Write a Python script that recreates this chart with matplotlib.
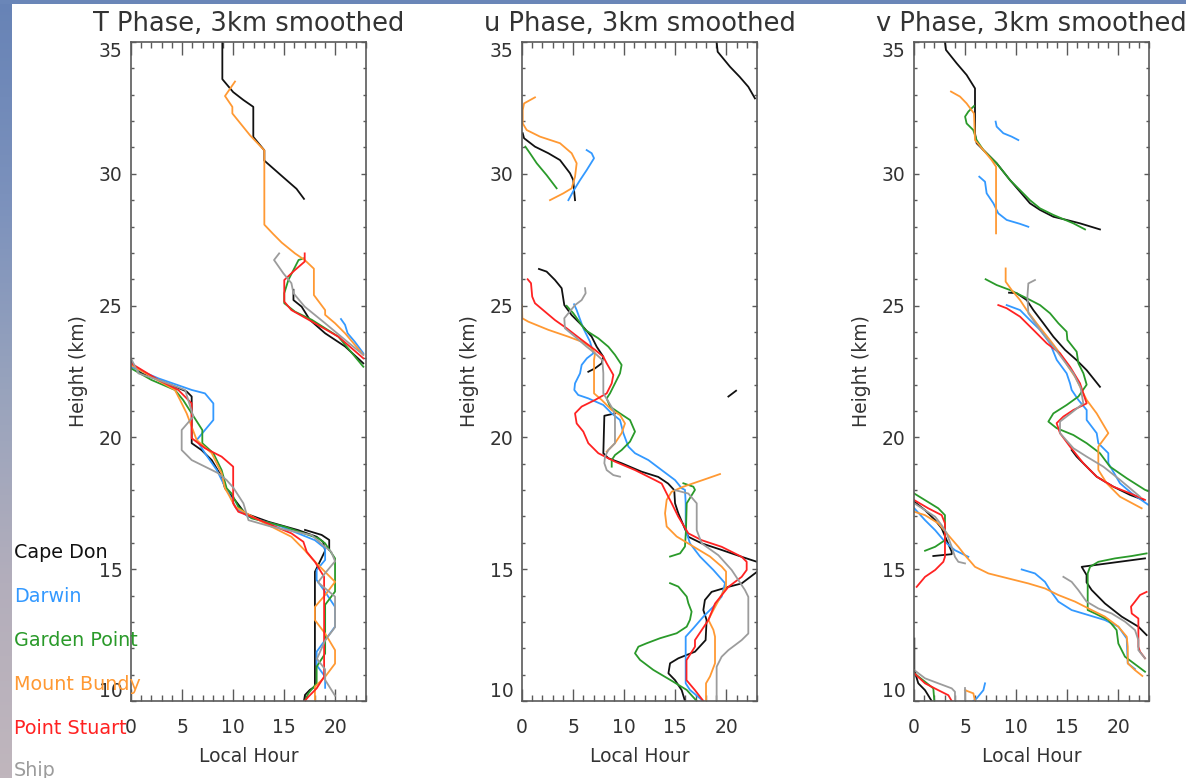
import numpy as np
import matplotlib
matplotlib.use("Agg")
import matplotlib.pyplot as plt
from matplotlib.ticker import MultipleLocator
from matplotlib.colors import LinearSegmentedColormap

# ---------------------------------------------------------------------------
# Stations, colours and panel titles
# ---------------------------------------------------------------------------
STATIONS = ["Cape Don", "Darwin", "Garden Point", "Mount Bundy", "Point Stuart", "Ship"]
COLORS = ["#111111", "#3399ff", "#2a9a2a", "#ff9933", "#ff2222", "#9c9c9c"]
TITLES = ["T Phase, 3km smoothed", "u Phase, 3km smoothed", "v Phase, 3km smoothed"]
HOUR_TICKS = [0, 5, 10, 15, 20]
HEIGHT_TICKS = [10, 15, 20, 25, 30, 35]

# Phase profiles: each station is a list of segments of (local hour, height km)

# ---- T phase ----
T_CAPE_DON = [
    [(8.94, 35.0), (8.94, 33.59), (10.0, 33.1), (11.0, 32.8), (11.97, 32.54), (11.97, 31.4),
     (13.05, 30.89), (13.05, 30.5), (14.9, 29.87), (16.2, 29.43), (16.93, 29.05)],
    [(15.9, 25.6), (15.9, 25.21), (16.7, 24.96), (17.5, 24.46), (19.0, 23.95), (20.95, 23.45),
     (22.74, 22.81)],
    [(0.0, 22.87), (1.04, 22.43), (2.68, 22.18), (4.3, 21.93), (5.45, 21.74), (5.94, 21.55),
     (5.94, 19.78), (6.9, 19.52), (7.9, 19.14), (8.87, 18.51), (9.2, 18.07), (10.18, 17.62),
     (11.16, 17.12), (13.44, 16.8), (16.38, 16.48), (18.17, 16.23), (18.8, 16.04), (19.0, 15.7),
     (18.5, 15.3), (18.0, 14.9), (18.0, 10.55), (17.5, 10.42), (17.03, 10.23), (16.93, 10.0)],
    [(17.03, 16.49), (18.66, 16.3), (19.4, 16.11), (19.4, 15.73)],
]
T_DARWIN = [
    [(20.55, 24.49), (20.95, 24.27), (21.2, 23.95), (21.9, 23.63), (22.74, 23.19)],
    [(0.0, 22.68), (2.68, 22.24), (5.94, 21.8), (7.24, 21.67), (8.06, 21.29), (8.06, 20.66),
     (7.24, 20.28), (6.43, 19.9), (7.24, 19.4), (8.4, 18.76), (9.2, 18.13), (9.8, 17.7),
     (10.3, 17.3), (11.5, 16.99), (14.75, 16.61), (18.0, 16.1), (19.0, 15.79), (19.0, 15.35),
     (18.17, 14.97), (18.17, 14.59), (19.0, 14.14), (19.97, 13.57), (19.97, 12.82), (19.0, 12.31),
     (18.17, 11.87), (18.17, 11.36), (19.0, 10.92), (19.0, 10.5)],
]
T_GARDEN_POINT = [
    [(16.9, 26.79), (16.4, 26.73), (15.4, 25.97), (15.0, 25.47), (15.0, 25.09), (16.05, 24.77),
     (17.7, 24.46), (20.3, 23.82), (22.74, 22.68)],
    [(0.0, 22.62), (2.0, 22.18), (4.3, 21.8), (5.1, 21.42), (5.94, 20.91), (6.98, 20.28),
     (6.98, 19.78), (8.06, 19.4), (8.87, 18.76), (9.36, 18.07), (9.85, 17.87), (10.5, 17.37),
     (11.8, 16.93), (15.07, 16.61), (18.34, 16.17), (19.0, 15.98), (19.97, 15.41), (19.97, 14.15),
     (19.0, 13.65), (19.0, 11.8), (18.17, 11.3), (18.17, 10.67), (17.36, 10.29), (17.0, 10.0)],
]
T_MOUNT_BUNDY = [
    [(10.18, 33.5), (9.2, 32.95), (9.92, 32.54), (9.92, 32.29), (11.65, 31.46), (13.05, 30.89),
     (13.05, 28.07), (13.93, 27.71), (14.75, 27.39), (16.05, 26.98), (17.0, 26.73), (17.9, 26.4),
     (17.9, 25.4), (19.0, 24.83), (19.0, 24.65), (19.97, 24.33), (20.95, 23.95), (22.74, 23.13)],
    [(0.0, 22.75), (2.0, 22.3), (4.3, 21.8), (4.8, 21.42), (5.45, 20.91), (6.43, 19.9),
     (7.9, 19.4), (8.87, 18.64), (9.2, 18.07), (9.6, 17.8), (10.18, 17.37), (11.3, 17.12),
     (13.1, 16.74), (15.7, 16.23), (17.0, 15.72), (17.7, 15.41), (18.66, 15.03), (19.97, 14.52),
     (19.0, 14.02), (18.0, 13.57), (18.0, 13.07), (19.0, 12.56), (19.97, 11.93), (19.97, 11.42),
     (19.0, 10.92), (18.0, 10.54), (18.0, 10.0)],
]
T_POINT_STUART = [
    [(17.0, 26.98), (17.0, 26.67), (16.05, 26.35), (15.0, 25.97), (15.0, 25.15), (15.7, 24.83),
     (18.0, 24.33), (20.3, 23.82), (22.74, 23.0)],
    [(0.0, 22.81), (2.68, 22.18), (4.63, 21.8), (5.94, 21.29), (5.94, 19.97), (7.24, 19.59),
     (8.87, 19.27), (10.0, 18.89), (10.0, 17.5), (10.5, 17.18), (11.8, 16.99), (15.7, 16.36),
     (16.87, 16.04), (17.2, 15.66), (18.0, 15.28), (18.9, 14.71), (18.9, 10.92), (18.17, 10.48),
     (17.36, 10.16), (17.0, 10.0)],
]
T_SHIP = [
    [(14.5, 26.98), (14.0, 26.73), (14.9, 26.23), (15.7, 25.85), (15.9, 25.47), (17.0, 24.96),
     (19.0, 24.33), (20.95, 23.7), (22.74, 23.13)],
    [(0.0, 23.0), (0.72, 22.43), (2.68, 22.18), (5.3, 21.8), (6.1, 20.79), (4.96, 20.28),
     (4.96, 19.52), (5.94, 19.14), (8.55, 18.64), (9.36, 18.38), (10.0, 18.1), (11.0, 17.5),
     (11.5, 16.86), (13.77, 16.61), (17.7, 16.29), (18.8, 15.91), (19.6, 15.66), (19.97, 15.3),
     (19.0, 14.85), (18.3, 14.5), (19.97, 13.96), (19.97, 12.8), (19.0, 12.3), (18.2, 11.6),
     (19.0, 11.2), (19.0, 10.8), (19.97, 10.2)],
]

# ---- u phase ----
U_CAPE_DON = [
    [(19.05, 35.0), (19.15, 34.63), (20.36, 34.06), (21.3, 33.68), (22.15, 33.3), (22.8, 32.86)],
    [(0.07, 31.54), (0.2, 31.35), (1.27, 31.03), (2.58, 30.78), (3.72, 30.52), (4.7, 30.02),
     (5.02, 29.76), (5.09, 29.39), (5.19, 29.0)],
    [(1.66, 26.39), (2.41, 26.29), (3.23, 25.97), (3.88, 25.66), (4.14, 25.02), (4.86, 24.64),
     (5.84, 24.26), (6.82, 23.82), (7.31, 23.44), (7.96, 23.06), (7.8, 22.81), (7.15, 22.62),
     (6.49, 22.49)],
    [(20.2, 21.55), (20.95, 21.77)],
    [(9.1, 20.91), (8.06, 20.82), (7.96, 19.4), (8.45, 19.21), (9.75, 19.02), (11.7, 18.7),
     (13.34, 18.5), (14.3, 18.25), (14.9, 18.0), (14.98, 17.5), (15.3, 17.12), (16.28, 16.23),
     (17.59, 15.98), (19.54, 15.73), (21.5, 15.47), (23.0, 15.28)],
    [(23.0, 14.9), (21.5, 14.46), (20.2, 14.33), (18.56, 14.14), (17.9, 13.83), (17.75, 13.45),
     (18.07, 13.07), (17.97, 12.31), (16.93, 11.87), (15.3, 11.62), (14.49, 11.43), (14.33, 11.05),
     (14.98, 10.79), (15.63, 10.41), (15.95, 10.0)],
]
U_DARWIN = [
    [(6.33, 30.9), (6.82, 30.78), (7.05, 30.59), (6.33, 30.14), (5.68, 29.76), (5.09, 29.39),
     (4.54, 29.0)],
    [(5.1, 25.05), (5.35, 24.83), (6.0, 24.14), (6.66, 23.63), (6.98, 23.19), (6.35, 23.0),
     (5.84, 22.75), (5.68, 22.43), (5.19, 22.05), (5.12, 21.8), (5.5, 21.61), (6.49, 21.48),
     (7.96, 21.23), (8.78, 20.91), (9.59, 20.66), (9.92, 20.16), (10.41, 19.65), (11.06, 19.4),
     (12.37, 19.14), (13.67, 18.76), (14.98, 18.38), (15.63, 18.07), (15.95, 18.01), (16.02, 17.5),
     (16.02, 16.49), (16.44, 15.98), (17.42, 15.48), (18.73, 14.97), (19.87, 14.47), (19.54, 13.96),
     (18.73, 13.58), (17.75, 13.2), (16.77, 12.76), (16.02, 12.44), (16.02, 10.67), (16.44, 10.42),
     (17.42, 10.1), (17.75, 10.0)],
]
U_GARDEN_POINT = [
    [(0.33, 31.03), (0.78, 30.78), (1.44, 30.4), (2.41, 29.95), (3.39, 29.45)],
    [(4.37, 24.99), (5.02, 24.71), (6.17, 24.08), (7.47, 23.76), (8.45, 23.44), (9.1, 23.13),
     (9.75, 22.75), (9.59, 22.43), (9.1, 22.05), (8.61, 21.67), (8.29, 21.48), (8.61, 21.17),
     (9.59, 20.91), (10.57, 20.66), (11.06, 20.22), (10.57, 19.84), (9.75, 19.52), (9.1, 19.33),
     (8.78, 19.14), (8.78, 18.89)],
    [(15.79, 18.26), (16.77, 18.13), (16.93, 18.01), (16.12, 17.5), (16.05, 16.49), (15.95, 15.86),
     (15.47, 15.6), (14.49, 15.48)],
    [(14.49, 14.47), (15.3, 14.34), (16.12, 13.96), (16.28, 13.71), (16.6, 13.39), (16.44, 13.08),
     (16.12, 12.82), (15.14, 12.57), (13.5, 12.38), (12.2, 12.19), (11.39, 12.06), (11.06, 11.81),
     (11.55, 11.56), (12.85, 11.18), (14.81, 10.73), (16.12, 10.42), (17.1, 10.0)],
]
U_MOUNT_BUNDY = [
    [(1.27, 32.9), (0.2, 32.67), (0.07, 32.42), (0.07, 31.91), (0.46, 31.66), (1.76, 31.41),
     (3.72, 31.16), (4.86, 30.78), (5.35, 30.4), (5.19, 29.89), (4.86, 29.45), (4.05, 29.26),
     (2.74, 29.0)],
    [(0.0, 25.02), (0.03, 24.52), (0.62, 24.39), (2.58, 24.08), (4.54, 23.82), (5.84, 23.63),
     (6.66, 23.44), (7.15, 23.19), (7.05, 22.94), (7.05, 21.67), (7.8, 21.42), (8.78, 21.04),
     (9.59, 20.85), (10.08, 20.53), (9.75, 20.16), (9.1, 19.78), (8.29, 19.46)],
    [(19.38, 18.61), (17.75, 18.39), (15.79, 18.13), (14.65, 17.94), (14.16, 17.63), (14.0, 17.12),
     (14.16, 16.62), (15.14, 16.24), (16.77, 15.86), (18.4, 15.48), (19.54, 15.1), (19.97, 14.91),
     (19.97, 14.34), (18.73, 13.45), (18.24, 13.08), (18.73, 12.7), (18.89, 12.44), (18.89, 11.43),
     (18.4, 10.93), (18.01, 10.67), (18.01, 10.0)],
]
U_POINT_STUART = [
    [(0.55, 26.0), (0.88, 25.85), (1.0, 25.34), (1.27, 25.09), (2.25, 24.77), (3.23, 24.45),
     (4.37, 24.14), (5.84, 23.7), (7.15, 23.32), (7.96, 23.06), (8.29, 22.81), (8.94, 22.37),
     (8.78, 22.05), (8.29, 21.67), (7.15, 21.42), (5.84, 21.17), (5.19, 20.91), (5.35, 20.53),
     (6.0, 20.22), (6.49, 19.78), (7.47, 19.4), (9.1, 19.08), (11.06, 18.76), (13.02, 18.38),
     (13.67, 18.25), (14.16, 17.87), (14.65, 17.5), (15.3, 16.99), (16.28, 16.36), (17.59, 16.1),
     (19.54, 15.85), (21.5, 15.47), (21.99, 15.28), (21.99, 14.97), (21.5, 14.71), (20.2, 14.33),
     (18.9, 13.7), (18.24, 13.07), (16.93, 12.31), (16.93, 12.06), (16.1, 11.55), (16.1, 10.79),
     (16.93, 10.41), (17.75, 10.0)],
]
U_SHIP = [
    [(6.17, 25.66), (6.23, 25.47), (5.84, 25.21), (5.19, 25.02), (4.54, 24.71), (4.14, 24.52),
     (4.2, 24.14), (5.19, 23.82), (6.33, 23.44), (7.15, 23.19), (7.86, 22.94), (7.96, 22.43),
     (7.96, 21.67), (8.45, 21.36), (8.94, 21.04), (9.1, 20.79), (9.1, 19.78), (8.45, 19.52),
     (8.12, 19.27), (8.06, 19.02), (8.29, 18.76), (8.94, 18.57), (9.59, 18.51)],
    [(14.98, 18.0), (16.28, 17.87), (17.1, 17.5), (17.1, 16.48), (17.59, 15.98), (19.22, 15.53),
     (20.52, 14.97), (21.82, 14.21), (22.15, 13.95), (22.15, 12.56), (21.5, 12.31), (20.2, 11.93),
     (19.54, 11.68), (19.05, 11.3), (19.05, 10.0)],
]

# ---- v phase ----
V_CAPE_DON = [
    [(3.03, 35.0), (3.13, 34.7), (4.18, 34.19), (5.15, 33.75), (5.97, 33.24), (5.97, 31.54),
     (6.13, 31.16), (7.11, 30.78), (8.09, 30.4), (9.4, 29.76), (10.38, 29.32), (11.35, 28.88),
     (12.33, 28.63), (13.64, 28.37), (14.94, 28.25), (16.25, 28.12), (18.2, 27.89)],
    [(9.3, 25.49), (10.05, 25.47), (11.03, 25.21), (11.68, 24.83), (12.66, 24.33), (13.64, 23.82),
     (14.78, 23.32), (15.92, 22.93), (16.9, 22.55), (18.2, 21.92)],
    [(15.43, 19.52), (15.92, 19.27), (16.9, 18.89), (17.88, 18.51), (19.51, 18.13), (21.14, 17.82),
     (22.45, 17.63)],
    [(0.03, 17.56), (1.08, 17.24), (2.07, 16.86), (2.71, 16.55), (3.2, 16.1), (3.69, 15.66),
     (3.69, 15.57), (1.89, 15.5)],
    [(22.61, 15.41), (16.41, 15.09), (16.89, 14.78), (16.89, 14.5), (17.39, 14.21), (18.69, 13.7),
     (20.33, 13.2), (21.96, 12.82), (22.77, 12.5)],
    [(0.03, 12.37), (0.03, 11.17), (0.42, 10.67), (1.08, 10.41), (1.73, 10.0)],
]
V_DARWIN = [
    [(7.99, 31.98), (8.09, 31.79), (8.74, 31.54), (9.56, 31.41), (10.21, 31.28)],
    [(6.39, 29.89), (6.95, 29.7), (7.11, 29.26), (7.77, 28.88), (8.25, 28.5), (9.07, 28.25),
     (10.38, 28.1), (11.19, 27.99)],
    [(9.07, 25.02), (10.38, 24.83), (11.35, 24.45), (12.33, 24.08), (13.31, 23.57), (13.97, 22.94),
     (14.94, 22.43), (15.27, 22.05), (15.43, 21.8), (16.09, 21.42), (16.9, 21.04), (16.9, 20.66),
     (17.88, 20.16), (18.04, 19.78), (19.02, 19.4), (19.02, 19.02), (20.16, 18.26), (21.31, 17.88),
     (22.94, 17.44)],
    [(0.03, 17.31), (1.08, 16.86), (2.07, 16.48), (3.03, 16.04), (4.01, 15.72), (5.32, 15.47)],
    [(10.54, 14.99), (11.84, 14.84), (12.82, 14.52), (13.31, 14.21), (14.13, 13.77), (15.43, 13.45),
     (17.06, 13.26), (18.69, 13.07), (20.0, 12.82), (20.82, 12.37), (20.92, 11.43), (21.63, 11.21)],
    [(6.95, 10.67), (6.79, 10.41), (6.13, 10.1), (5.81, 10.0)],
]
V_GARDEN_POINT = [
    [(5.87, 32.57), (5.32, 32.36), (5.0, 32.17), (5.15, 31.91), (5.8, 31.66), (6.13, 31.28),
     (6.79, 30.9), (8.09, 30.4), (9.4, 29.76), (10.38, 29.38), (11.35, 29.0), (12.33, 28.69),
     (13.64, 28.44), (15.6, 28.12), (16.74, 27.89)],
    [(7.01, 26.0), (8.09, 25.78), (9.4, 25.59), (11.03, 25.28), (12.33, 25.02), (13.31, 24.71),
     (14.13, 24.33), (14.94, 24.01), (15.01, 23.7), (15.92, 23.25), (16.09, 22.81), (16.58, 22.43),
     (16.9, 22.0), (16.09, 21.55), (14.94, 21.23), (13.64, 20.91), (13.15, 20.6), (13.96, 20.35),
     (15.6, 20.09), (16.9, 19.78), (18.2, 19.4), (19.18, 18.89), (20.82, 18.45), (22.61, 18.01),
     (23.0, 17.95)],
    [(0.03, 17.87), (1.08, 17.62), (2.38, 17.31), (3.03, 17.05), (3.03, 16.1), (2.07, 15.85),
     (1.08, 15.7)],
    [(22.77, 15.6), (21.31, 15.5), (19.67, 15.41), (18.04, 15.28), (17.23, 15.09), (17.0, 14.84),
     (17.0, 13.45), (17.72, 13.32), (19.02, 13.07), (19.83, 12.69), (20.0, 12.18), (20.65, 11.68),
     (21.96, 11.3), (22.61, 11.11)],
    [(0.03, 11.05), (1.08, 10.73), (1.89, 10.48), (1.99, 10.0)],
]
V_MOUNT_BUNDY = [
    [(3.62, 33.12), (4.5, 32.93), (5.15, 32.67), (5.87, 32.29), (5.97, 31.28), (6.79, 30.9),
     (7.6, 30.52), (8.03, 30.27), (8.03, 27.74)],
    [(8.97, 26.41), (8.97, 25.91), (9.56, 25.59), (10.38, 25.21), (11.03, 24.83), (12.0, 24.33),
     (13.31, 23.69), (14.29, 23.19), (15.1, 22.68), (15.76, 22.3), (16.41, 21.8), (16.9, 21.42),
     (17.88, 20.91), (19.02, 20.16), (18.04, 19.65), (18.04, 18.77), (18.86, 18.26), (20.16, 17.75),
     (22.28, 17.31)],
    [(0.03, 17.18), (1.08, 17.05), (2.38, 16.74), (3.36, 16.29), (4.34, 15.85), (4.99, 15.53),
     (5.97, 15.09), (7.28, 14.84), (9.23, 14.65), (11.19, 14.46), (12.82, 14.27), (14.13, 14.02),
     (15.76, 13.77), (17.39, 13.45), (18.69, 13.2), (20.0, 12.82), (20.82, 12.44), (20.92, 12.06),
     (20.92, 11.43), (21.63, 11.17), (22.35, 10.95)],
    [(4.99, 10.41), (5.81, 10.29), (5.97, 10.0)],
]
V_POINT_STUART = [
    [(8.25, 25.02), (9.07, 24.9), (10.38, 24.58), (11.68, 24.08), (12.99, 23.57), (14.29, 23.19),
     (15.27, 22.68), (16.25, 22.05), (16.57, 21.67), (16.9, 21.29), (15.6, 21.04), (14.62, 20.79),
     (13.96, 20.54), (14.29, 20.16), (15.27, 19.65), (16.57, 19.02), (17.88, 18.51), (19.51, 18.13),
     (21.14, 17.88), (22.61, 17.63)],
    [(0.03, 17.62), (1.4, 17.31), (2.71, 17.05), (3.03, 16.74), (3.03, 15.47), (2.87, 15.28),
     (2.07, 14.97), (1.08, 14.71), (0.26, 14.33)],
    [(22.77, 14.14), (22.12, 14.02), (21.63, 13.77), (21.24, 13.58), (21.31, 13.32), (21.96, 13.13),
     (21.96, 12.06), (22.12, 11.87), (22.61, 11.62)],
    [(0.03, 11.05), (1.08, 10.67), (2.38, 10.41), (3.36, 10.22), (3.69, 10.0)],
]
V_SHIP = [
    [(11.84, 25.97), (11.19, 25.84), (11.1, 25.34), (11.19, 24.71), (12.33, 24.08), (13.64, 23.45),
     (14.62, 22.94), (15.6, 22.43), (16.3, 21.9), (16.57, 21.29), (15.3, 20.9), (14.29, 20.6),
     (14.29, 20.16), (15.6, 19.59), (16.9, 19.27), (18.53, 18.89), (20.16, 18.39), (22.12, 17.75)],
    [(0.03, 17.5), (1.08, 17.24), (2.07, 16.99), (2.71, 16.67), (3.2, 16.36), (3.69, 15.85),
     (4.01, 15.47), (4.34, 15.28), (4.99, 15.22)],
    [(14.62, 14.71), (15.43, 14.52), (16.08, 14.21), (16.89, 13.77), (18.04, 13.51), (19.35, 13.32),
     (20.65, 13.01), (21.63, 12.69), (21.96, 12.31), (21.96, 11.93), (22.61, 11.62)],
    [(0.03, 11.17), (1.08, 10.86), (2.38, 10.67), (3.69, 10.48), (4.01, 10.35), (4.01, 10.0)],
    [(4.99, 10.48), (4.99, 10.0)],
]

PANELS = [
    [T_CAPE_DON, T_DARWIN, T_GARDEN_POINT, T_MOUNT_BUNDY, T_POINT_STUART, T_SHIP],
    [U_CAPE_DON, U_DARWIN, U_GARDEN_POINT, U_MOUNT_BUNDY, U_POINT_STUART, U_SHIP],
    [V_CAPE_DON, V_DARWIN, V_GARDEN_POINT, V_MOUNT_BUNDY, V_POINT_STUART, V_SHIP],
]

# ---------------------------------------------------------------------------
# Figure
# ---------------------------------------------------------------------------
W, H = 1186, 778
plt.rcParams["font.family"] = ["DejaVu Sans"]
fig = plt.figure(figsize=(W / 100, H / 100), dpi=100, facecolor="white")

# Slide backdrop: thin sky strip along the left and top edges
bg = fig.add_axes([0, 0, 1, 1], zorder=-10)
bg.set_axis_off()
bg.set_xlim(0, W)
bg.set_ylim(H, 0)
sky = np.linspace(0, 1, 256)[:, None]
sky_cmap = LinearSegmentedColormap.from_list(
    "sky", ["#6783b6", "#7b91bc", "#98a3bd", "#b3aebb", "#c0b6bd"])
bg.imshow(sky, cmap=sky_cmap, aspect="auto", extent=[0, 12, H, 0])
bg.add_patch(plt.Rectangle((0, 0), W, 4, color="#6a86b8", lw=0))

TEXT = "#333333"
AX_COLOR = "#5a5a5a"

lefts = [131, 522, 914]
ax_w, ax_top, ax_bot = 235, 42, 701

for left, title, series in zip(lefts, TITLES, PANELS):
    ax = fig.add_axes([left / W, 1 - ax_bot / H, ax_w / W, (ax_bot - ax_top) / H])
    ax.set_facecolor("none")
    for segs, color in zip(series, COLORS):
        for seg in segs:
            xs = [pt[0] for pt in seg]
            ys = [pt[1] for pt in seg]
            ax.plot(xs, ys, color=color, lw=1.3, solid_joinstyle="round")
    ax.set_xlim(0, 23)
    ax.set_ylim(10, 35)
    ax.set_xticks(HOUR_TICKS)
    ax.set_yticks(HEIGHT_TICKS)
    ax.xaxis.set_minor_locator(MultipleLocator(1))
    ax.yaxis.set_minor_locator(MultipleLocator(1))
    ax.tick_params(axis="x", which="major", direction="in", length=9, width=1.0,
                   top=True, bottom=True, color=AX_COLOR, pad=12.5,
                   labelsize=13.5, labelcolor=TEXT)
    ax.tick_params(axis="x", which="minor", direction="in", length=4.5, width=1.0,
                   top=True, bottom=True, color=AX_COLOR)
    ax.tick_params(axis="y", which="major", direction="in", length=3.5, width=1.0,
                   left=True, right=True, color=AX_COLOR, pad=6,
                   labelsize=13.5, labelcolor=TEXT)
    ax.tick_params(axis="y", which="minor", direction="in", length=2.2, width=1.0,
                   left=True, right=True, color=AX_COLOR)
    for sp in ax.spines.values():
        sp.set_color(AX_COLOR)
        sp.set_linewidth(1.2)
    ylabels = ax.get_yticklabels()
    ylabels[0].set_verticalalignment("bottom")
    ylabels[-1].set_verticalalignment("top")
    ax.set_title(title, fontsize=18.5, color=TEXT, pad=8)
    ax.set_xlabel("Local Hour", fontsize=13.5, color=TEXT, labelpad=7)
    ax.set_ylabel("Height (km)", fontsize=13.5, color=TEXT, labelpad=8)

# Station key down the left margin
key_y = [553, 597, 640, 685, 728, 770]
for name, color, yy in zip(STATIONS, COLORS, key_y):
    fig.text(14 / W, 1 - yy / H, name, color=color, fontsize=13.8,
             ha="left", va="center")

fig.savefig("out.png", dpi=100, facecolor="white")
